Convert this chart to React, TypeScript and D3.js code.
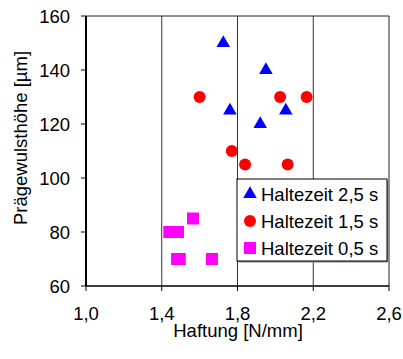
import React from 'react'
import * as d3 from 'd3'

// Haltezeit 2,5 s
const haftung25 = [1.725, 1.95, 1.76, 2.055, 1.92]
const praege25 = [150, 140, 125, 125, 120]
// Haltezeit 1,5 s
const haftung15 = [1.6, 2.025, 2.165, 1.77, 1.84, 2.065]
const praege15 = [130, 130, 130, 110, 105, 105]
// Haltezeit 0,5 s
const haftung05 = [1.565, 1.44, 1.486, 1.481, 1.495, 1.665]
const praege05 = [85, 80, 80, 70, 70, 70]

const xTicks = [1.0, 1.4, 1.8, 2.2, 2.6]
const yTicks = [60, 80, 100, 120, 140, 160]
const legendLabels = ['Haltezeit 2,5 s', 'Haltezeit 1,5 s', 'Haltezeit 0,5 s']

const width = 403
const height = 359
const margin = { top: 16, right: 14, bottom: 73, left: 86 }
const font = 'Liberation Sans, Arial, sans-serif'
const fs = 18.5

const blue = '#0000ff'
const red = '#ff0000'
const magenta = '#ff00ff'

const x = d3.scaleLinear().domain([1.0, 2.6]).range([margin.left, width - margin.right])
const y = d3.scaleLinear().domain([60, 160]).range([height - margin.bottom, margin.top])

const tri = d3.symbol(d3.symbolTriangle, 80)()
const fmt = (v: number) => v.toFixed(1).replace('.', ',')

const Label = ({ x, y, anchor = 'start', rotate = 0, children }: any) => (
  <text
    transform={`translate(${x},${y}) rotate(${rotate})`}
    textAnchor={anchor}
    fontSize={fs}
    fontFamily={font}
    fill="#000"
  >
    {children}
  </text>
)

const Marker = ({ kind, cx, cy }: any) => {
  if (kind === 0) return <path d={tri} transform={`translate(${cx},${cy})`} fill={blue} />
  if (kind === 1) return <circle cx={cx} cy={cy} r={6} fill={red} />
  return <rect x={cx - 6} y={cy - 6} width={12} height={12} fill={magenta} />
}

export default function App() {
  const [x0, x1] = x.range()
  const [y0, y1] = y.range()
  const lx = 237, ly = 179, lw = 150, lh = 82
  return (
    <svg width={width} height={height} style={{ position: 'absolute', left: 0, top: 0, background: '#fff' }}>
      {/* grid */}
      {xTicks.slice(1, -1).map(t => (
        <line key={t} x1={x(t)} x2={x(t)} y1={y1} y2={y0} stroke="#333" strokeWidth={1} />
      ))}
      <line x1={x0} x2={x1} y1={y1} y2={y1} stroke="#222" strokeWidth={1} />
      <line x1={x1} x2={x1} y1={y1} y2={y0} stroke="#222" strokeWidth={1} />
      {/* axes */}
      <line x1={x0} x2={x1} y1={y0} y2={y0} stroke="#000" strokeWidth={1.5} />
      <line x1={x0} x2={x0} y1={y1} y2={y0} stroke="#000" strokeWidth={2} />
      {xTicks.map(t => (
        <g key={t}>
          <line x1={x(t)} x2={x(t)} y1={y0} y2={y0 + 5} stroke="#000" />
          <Label x={x(t)} y={320} anchor="middle">{fmt(t)}</Label>
        </g>
      ))}
      {yTicks.map(t => (
        <g key={t}>
          <line x1={x0 - 5} x2={x0} y1={y(t)} y2={y(t)} stroke="#000" />
          <Label x={70} y={y(t) + 7} anchor="end">{t}</Label>
        </g>
      ))}
      <Label x={238} y={337} anchor="middle">Haftung [N/mm]</Label>
      <Label x={27} y={138} anchor="middle" rotate={-90}>Prägewulsthöhe [µm]</Label>

      {/* points */}
      {haftung05.map((h, i) => <Marker key={'c' + i} kind={2} cx={x(h)} cy={y(praege05[i])} />)}
      {haftung15.map((h, i) => <Marker key={'b' + i} kind={1} cx={x(h)} cy={y(praege15[i])} />)}
      {haftung25.map((h, i) => <Marker key={'a' + i} kind={0} cx={x(h)} cy={y(praege25[i])} />)}

      {/* legend */}
      <rect x={lx + 1.5} y={ly + 1.5} width={lw} height={lh} fill="#888" />
      <rect x={lx} y={ly} width={lw} height={lh} fill="#fff" stroke="#000" strokeWidth={1} />
      {legendLabels.map((l, i) => {
        const cy = ly + 15 + i * 27
        return (
          <g key={l}>
            <Marker kind={i} cx={250} cy={cy} />
            <Label x={261} y={cy + 6.5}>{l}</Label>
          </g>
        )
      })}
    </svg>
  )
}
